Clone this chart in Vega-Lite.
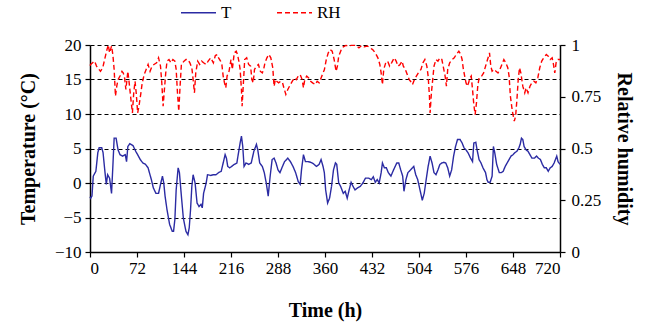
{
  "$schema": "https://vega.github.io/schema/vega-lite/v6.json",
  "width": 470,
  "height": 207,
  "autosize": {"type": "none"},
  "padding": {"left": 90, "top": 45, "right": 89, "bottom": 75},
  "background": "white",
  "config": {
    "view": {"stroke": null},
    "font": "Liberation Serif",
    "axis": {
      "domainColor": "black",
      "domainWidth": 1.5,
      "tickColor": "black",
      "tickWidth": 1.2,
      "tickSize": 5,
      "labelColor": "black",
      "labelFont": "Liberation Serif",
      "labelFontSize": 17,
      "titleFont": "Liberation Serif",
      "titleFontSize": 20,
      "titleFontWeight": "bold",
      "titleColor": "black",
      "grid": false
    },
    "legend": {"labelFont": "Liberation Serif", "labelFontSize": 17, "labelColor": "black"}
  },
  "datasets": {
    "t": [
      {"h":0,"v":-2.0},{"h":1,"v":-2.2},{"h":3,"v":-1.9},{"h":5,"v":1.0},{"h":9,"v":1.7},{"h":12,"v":4.4},{"h":14,"v":5.1},{"h":18,"v":5.1},{"h":20,"v":4.4},{"h":23,"v":1.5},{"h":25,"v":-0.2},{"h":27,"v":1.2},{"h":30,"v":0.7},{"h":33,"v":-1.5},{"h":35,"v":2.4},{"h":37,"v":6.5},{"h":40,"v":6.5},{"h":43,"v":4.8},{"h":46,"v":4.1},{"h":50,"v":3.9},{"h":54,"v":4.1},{"h":56,"v":3.1},{"h":58,"v":5.3},{"h":61,"v":5.7},{"h":66,"v":5.4},{"h":70,"v":4.6},{"h":73,"v":4.1},{"h":77,"v":3.4},{"h":81,"v":2.9},{"h":85,"v":2.7},{"h":89,"v":2.2},{"h":91,"v":1.5},{"h":94,"v":0.5},{"h":97,"v":-0.7},{"h":101,"v":-1.5},{"h":105,"v":-1.5},{"h":108,"v":-0.2},{"h":111,"v":1.0},{"h":113,"v":0},{"h":115,"v":-1.9},{"h":118,"v":-3.9},{"h":122,"v":-6.0},{"h":126,"v":-7.0},{"h":128,"v":-7.0},{"h":130,"v":-5.3},{"h":132,"v":-1.0},{"h":135,"v":2.2},{"h":137,"v":1.5},{"h":140,"v":-1.9},{"h":143,"v":-5.1},{"h":147,"v":-7.0},{"h":150,"v":-7.5},{"h":152,"v":-6.5},{"h":154,"v":-3.9},{"h":156,"v":-0.5},{"h":158,"v":1.2},{"h":161,"v":0},{"h":164,"v":-2.9},{"h":167,"v":-3.4},{"h":170,"v":-3.1},{"h":172,"v":-3.6},{"h":174,"v":-1.5},{"h":178,"v":0},{"h":180,"v":1.2},{"h":185,"v":1.1},{"h":189,"v":1.2},{"h":193,"v":1.2},{"h":197,"v":1.5},{"h":201,"v":1.7},{"h":204,"v":2.9},{"h":207,"v":4.1},{"h":209,"v":3.6},{"h":211,"v":2.4},{"h":214,"v":2.2},{"h":217,"v":2.4},{"h":221,"v":2.7},{"h":225,"v":2.9},{"h":227,"v":4.1},{"h":230,"v":5.8},{"h":232,"v":6.8},{"h":234,"v":5.3},{"h":236,"v":2.4},{"h":239,"v":2.9},{"h":243,"v":2.7},{"h":247,"v":2.9},{"h":251,"v":4.6},{"h":255,"v":5.6},{"h":257,"v":4.8},{"h":260,"v":2.9},{"h":264,"v":2.4},{"h":267,"v":1.5},{"h":270,"v":0},{"h":273,"v":-1.9},{"h":276,"v":1.0},{"h":279,"v":3.4},{"h":282,"v":3.6},{"h":285,"v":2.9},{"h":288,"v":1.9},{"h":291,"v":1.5},{"h":294,"v":2.2},{"h":298,"v":3.1},{"h":303,"v":3.6},{"h":307,"v":3.1},{"h":311,"v":2.4},{"h":315,"v":1.5},{"h":319,"v":0.2},{"h":322,"v":-0.2},{"h":324,"v":1.9},{"h":327,"v":4.1},{"h":330,"v":3.1},{"h":334,"v":3.1},{"h":338,"v":3.0},{"h":342,"v":2.8},{"h":347,"v":2.4},{"h":351,"v":2.7},{"h":354,"v":3.4},{"h":357,"v":2.4},{"h":359,"v":1.5},{"h":361,"v":-1.0},{"h":364,"v":-2.9},{"h":367,"v":-2.2},{"h":370,"v":-0.5},{"h":373,"v":1.9},{"h":376,"v":2.9},{"h":378,"v":2.7},{"h":381,"v":0},{"h":384,"v":-0.5},{"h":388,"v":-1.5},{"h":391,"v":-1.2},{"h":394,"v":-2.2},{"h":397,"v":-1.0},{"h":400,"v":0.1},{"h":403,"v":-0.5},{"h":406,"v":-1.0},{"h":410,"v":-0.7},{"h":414,"v":-0.5},{"h":418,"v":0},{"h":422,"v":0.7},{"h":427,"v":0.7},{"h":431,"v":0.5},{"h":434,"v":0.9},{"h":437,"v":0.1},{"h":440,"v":0.5},{"h":443,"v":0},{"h":446,"v":1.5},{"h":448,"v":2.9},{"h":451,"v":2.2},{"h":454,"v":2.2},{"h":457,"v":1.5},{"h":461,"v":1.0},{"h":465,"v":1.9},{"h":470,"v":2.9},{"h":473,"v":2.9},{"h":476,"v":1.9},{"h":479,"v":1.0},{"h":481,"v":-1.2},{"h":484,"v":0.5},{"h":487,"v":1.5},{"h":491,"v":1.9},{"h":494,"v":2.2},{"h":496,"v":2.4},{"h":499,"v":1.2},{"h":502,"v":0.5},{"h":506,"v":-1.2},{"h":509,"v":-2.5},{"h":512,"v":-1.5},{"h":515,"v":0.5},{"h":518,"v":2.4},{"h":521,"v":3.9},{"h":524,"v":2.9},{"h":527,"v":1.5},{"h":530,"v":1.2},{"h":533,"v":1.9},{"h":536,"v":2.7},{"h":539,"v":2.9},{"h":542,"v":3.0},{"h":545,"v":2.9},{"h":548,"v":2.2},{"h":551,"v":1.0},{"h":554,"v":1.9},{"h":557,"v":3.9},{"h":560,"v":5.3},{"h":563,"v":6.3},{"h":567,"v":6.3},{"h":570,"v":5.8},{"h":573,"v":5.1},{"h":576,"v":4.8},{"h":579,"v":4.4},{"h":583,"v":3.6},{"h":586,"v":3.1},{"h":588,"v":5.8},{"h":591,"v":5.9},{"h":593,"v":4.8},{"h":596,"v":3.4},{"h":599,"v":2.9},{"h":602,"v":2.2},{"h":606,"v":1.5},{"h":608,"v":0.5},{"h":610,"v":0.1},{"h":613,"v":0.1},{"h":616,"v":1.0},{"h":618,"v":5.3},{"h":620,"v":4.4},{"h":623,"v":2.7},{"h":627,"v":1.5},{"h":630,"v":1.5},{"h":633,"v":1.7},{"h":636,"v":2.4},{"h":639,"v":2.9},{"h":642,"v":3.4},{"h":645,"v":3.9},{"h":648,"v":4.1},{"h":651,"v":4.4},{"h":654,"v":4.6},{"h":657,"v":5.1},{"h":659,"v":5.6},{"h":661,"v":6.5},{"h":663,"v":6.3},{"h":665,"v":5.3},{"h":668,"v":4.8},{"h":671,"v":4.6},{"h":674,"v":4.1},{"h":677,"v":3.6},{"h":681,"v":3.6},{"h":684,"v":3.9},{"h":687,"v":3.6},{"h":690,"v":3.4},{"h":693,"v":2.7},{"h":696,"v":2.2},{"h":699,"v":2.2},{"h":702,"v":1.7},{"h":705,"v":2.2},{"h":708,"v":2.4},{"h":711,"v":2.9},{"h":715,"v":3.9},{"h":717,"v":3.1},{"h":720,"v":2.7}
    ],
    "rh": [
      {"h":0,"v":0.9},{"h":1,"v":0.906},{"h":4,"v":0.914},{"h":7,"v":0.922},{"h":10,"v":0.898},{"h":13,"v":0.885},{"h":16,"v":0.873},{"h":19.5,"v":0.89},{"h":23,"v":0.938},{"h":26,"v":0.978},{"h":28,"v":1.0},{"h":30,"v":0.962},{"h":33,"v":0.995},{"h":35,"v":0.954},{"h":37,"v":0.882},{"h":39,"v":0.753},{"h":41,"v":0.801},{"h":43,"v":0.833},{"h":46,"v":0.85},{"h":49,"v":0.873},{"h":51,"v":0.865},{"h":53,"v":0.841},{"h":55,"v":0.785},{"h":58,"v":0.873},{"h":60,"v":0.817},{"h":63,"v":0.728},{"h":65,"v":0.672},{"h":67,"v":0.769},{"h":69,"v":0.825},{"h":71,"v":0.761},{"h":73,"v":0.672},{"h":75,"v":0.704},{"h":78,"v":0.769},{"h":80,"v":0.817},{"h":83,"v":0.857},{"h":86,"v":0.882},{"h":89,"v":0.906},{"h":92,"v":0.873},{"h":95,"v":0.898},{"h":98,"v":0.906},{"h":102,"v":0.914},{"h":105,"v":0.938},{"h":108,"v":0.898},{"h":110,"v":0.817},{"h":112,"v":0.704},{"h":114,"v":0.785},{"h":116,"v":0.865},{"h":118,"v":0.922},{"h":121,"v":0.93},{"h":124,"v":0.914},{"h":127,"v":0.93},{"h":130,"v":0.922},{"h":132,"v":0.882},{"h":134,"v":0.769},{"h":136,"v":0.68},{"h":138,"v":0.801},{"h":140,"v":0.906},{"h":144,"v":0.922},{"h":147,"v":0.93},{"h":150,"v":0.93},{"h":153,"v":0.914},{"h":156,"v":0.89},{"h":158,"v":0.833},{"h":160,"v":0.769},{"h":162,"v":0.865},{"h":165,"v":0.922},{"h":168,"v":0.906},{"h":171,"v":0.922},{"h":174,"v":0.914},{"h":178,"v":0.906},{"h":181,"v":0.922},{"h":185,"v":0.938},{"h":189,"v":0.914},{"h":192,"v":0.949},{"h":195,"v":0.954},{"h":197,"v":0.938},{"h":200,"v":0.922},{"h":202,"v":0.906},{"h":204,"v":0.85},{"h":206,"v":0.817},{"h":208,"v":0.793},{"h":210,"v":0.85},{"h":213,"v":0.873},{"h":216,"v":0.93},{"h":218,"v":0.882},{"h":221,"v":0.962},{"h":224,"v":0.97},{"h":226,"v":0.954},{"h":228,"v":0.922},{"h":230,"v":0.882},{"h":232,"v":0.785},{"h":233,"v":0.704},{"h":235,"v":0.817},{"h":237,"v":0.93},{"h":240,"v":0.938},{"h":243,"v":0.906},{"h":246,"v":0.898},{"h":248,"v":0.833},{"h":250,"v":0.817},{"h":252,"v":0.882},{"h":255,"v":0.898},{"h":258,"v":0.906},{"h":261,"v":0.873},{"h":264,"v":0.865},{"h":266,"v":0.882},{"h":268,"v":0.914},{"h":271,"v":0.938},{"h":274,"v":0.954},{"h":277,"v":0.938},{"h":280,"v":0.89},{"h":282,"v":0.801},{"h":284,"v":0.833},{"h":286,"v":0.825},{"h":289,"v":0.817},{"h":292,"v":0.825},{"h":295,"v":0.817},{"h":297,"v":0.793},{"h":300,"v":0.761},{"h":303,"v":0.785},{"h":307,"v":0.809},{"h":310,"v":0.825},{"h":313,"v":0.841},{"h":316,"v":0.833},{"h":319,"v":0.85},{"h":322,"v":0.857},{"h":325,"v":0.833},{"h":327,"v":0.793},{"h":329,"v":0.833},{"h":332,"v":0.85},{"h":335,"v":0.841},{"h":338,"v":0.825},{"h":341,"v":0.817},{"h":345,"v":0.809},{"h":348,"v":0.825},{"h":351,"v":0.817},{"h":354,"v":0.841},{"h":357,"v":0.865},{"h":359,"v":0.88},{"h":362,"v":0.93},{"h":365,"v":0.962},{"h":368,"v":0.978},{"h":371,"v":0.97},{"h":374,"v":0.93},{"h":377,"v":0.873},{"h":379,"v":0.898},{"h":381,"v":0.946},{"h":385,"v":0.978},{"h":388,"v":0.991},{"h":392,"v":0.998},{"h":396,"v":0.995},{"h":400,"v":0.998},{"h":404,"v":0.998},{"h":408,"v":0.998},{"h":412,"v":0.986},{"h":416,"v":0.998},{"h":420,"v":0.991},{"h":425,"v":0.995},{"h":429,"v":0.986},{"h":433,"v":0.978},{"h":437,"v":0.962},{"h":441,"v":0.938},{"h":444,"v":0.906},{"h":446,"v":0.865},{"h":448,"v":0.809},{"h":450,"v":0.882},{"h":453,"v":0.914},{"h":456,"v":0.922},{"h":459,"v":0.898},{"h":462,"v":0.914},{"h":466,"v":0.938},{"h":469,"v":0.922},{"h":472,"v":0.898},{"h":475,"v":0.906},{"h":478,"v":0.922},{"h":480,"v":0.898},{"h":483,"v":0.882},{"h":486,"v":0.857},{"h":489,"v":0.833},{"h":491,"v":0.825},{"h":494,"v":0.809},{"h":497,"v":0.833},{"h":500,"v":0.85},{"h":503,"v":0.865},{"h":507,"v":0.882},{"h":510,"v":0.914},{"h":513,"v":0.93},{"h":516,"v":0.898},{"h":518,"v":0.85},{"h":520,"v":0.753},{"h":521,"v":0.672},{"h":523,"v":0.769},{"h":525,"v":0.833},{"h":527,"v":0.898},{"h":530,"v":0.93},{"h":533,"v":0.922},{"h":536,"v":0.938},{"h":539,"v":0.93},{"h":541,"v":0.898},{"h":544,"v":0.85},{"h":546,"v":0.801},{"h":548,"v":0.882},{"h":551,"v":0.914},{"h":555,"v":0.93},{"h":558,"v":0.938},{"h":561,"v":0.954},{"h":565,"v":0.97},{"h":568,"v":0.954},{"h":570,"v":0.93},{"h":572,"v":0.882},{"h":574,"v":0.85},{"h":576,"v":0.817},{"h":578,"v":0.801},{"h":580,"v":0.817},{"h":582,"v":0.841},{"h":584,"v":0.85},{"h":586,"v":0.785},{"h":588,"v":0.712},{"h":590,"v":0.664},{"h":592,"v":0.72},{"h":594,"v":0.801},{"h":596,"v":0.841},{"h":600,"v":0.85},{"h":603,"v":0.865},{"h":606,"v":0.898},{"h":609,"v":0.93},{"h":612,"v":0.962},{"h":614,"v":0.898},{"h":616,"v":0.873},{"h":619,"v":0.882},{"h":622,"v":0.873},{"h":625,"v":0.865},{"h":628,"v":0.882},{"h":631,"v":0.906},{"h":634,"v":0.93},{"h":637,"v":0.914},{"h":640,"v":0.89},{"h":642,"v":0.85},{"h":644,"v":0.753},{"h":647,"v":0.68},{"h":650,"v":0.632},{"h":652,"v":0.656},{"h":654,"v":0.736},{"h":656,"v":0.833},{"h":658,"v":0.89},{"h":660,"v":0.865},{"h":663,"v":0.801},{"h":666,"v":0.769},{"h":668,"v":0.793},{"h":671,"v":0.769},{"h":674,"v":0.801},{"h":677,"v":0.817},{"h":680,"v":0.825},{"h":683,"v":0.817},{"h":686,"v":0.841},{"h":689,"v":0.89},{"h":692,"v":0.922},{"h":695,"v":0.938},{"h":699,"v":0.954},{"h":702,"v":0.946},{"h":705,"v":0.93},{"h":708,"v":0.938},{"h":710,"v":0.906},{"h":712,"v":0.865},{"h":714,"v":0.914},{"h":717,"v":0.93},{"h":720,"v":0.93}
    ]
  },
  "layer": [
    {
      "data": {"name": "t"},
      "mark": {"type": "line", "strokeWidth": 1.4},
      "encoding": {
        "x": {
          "field": "h", "type": "quantitative",
          "scale": {"domain": [0, 720], "nice": false},
          "axis": {"values": [0, 72, 144, 216, 288, 360, 432, 504, 576, 648, 720], "title": "Time (h)", "labelPadding": 3, "titlePadding": 24}
        },
        "y": {
          "field": "v", "type": "quantitative",
          "scale": {"domain": [-10, 20], "nice": false, "zero": false},
          "axis": {"values": [-10, -5, 0, 5, 10, 15, 20], "title": "Temperature (°C)", "grid": true, "gridColor": "black", "gridDash": [4, 3], "gridWidth": 1.2, "labelPadding": 4, "titlePadding": 16}
        },
        "color": {
          "datum": "T",
          "scale": {"domain": ["T", "RH"], "range": ["#2B2BA3", "#FF0000"]},
          "legend": {"title": null, "orient": "none", "legendX": 90, "legendY": -51, "direction": "horizontal", "symbolType": "stroke", "symbolSize": 1225, "symbolStrokeWidth": 1.4, "columnPadding": 42, "labelOffset": 4}
        },
        "strokeDash": {
          "datum": "T",
          "scale": {"domain": ["T", "RH"], "range": [[1, 0], [5, 3]]},
          "legend": {"title": null, "orient": "none", "legendX": 90, "legendY": -51, "direction": "horizontal", "symbolType": "stroke", "symbolSize": 1225, "symbolStrokeWidth": 1.4, "columnPadding": 42, "labelOffset": 4}
        }
      }
    },
    {
      "data": {"name": "rh"},
      "mark": {"type": "line", "strokeWidth": 1.4},
      "encoding": {
        "x": {"field": "h", "type": "quantitative"},
        "y": {
          "field": "v", "type": "quantitative",
          "scale": {"domain": [0, 1], "nice": false},
          "axis": {"orient": "right", "values": [0, 0.25, 0.5, 0.75, 1], "format": ".2~f", "title": "Relative humidity", "labelPadding": 6, "titlePadding": 13}
        },
        "color": {"datum": "RH"},
        "strokeDash": {"datum": "RH"}
      }
    }
  ],
  "resolve": {"scale": {"y": "independent"}}
}
